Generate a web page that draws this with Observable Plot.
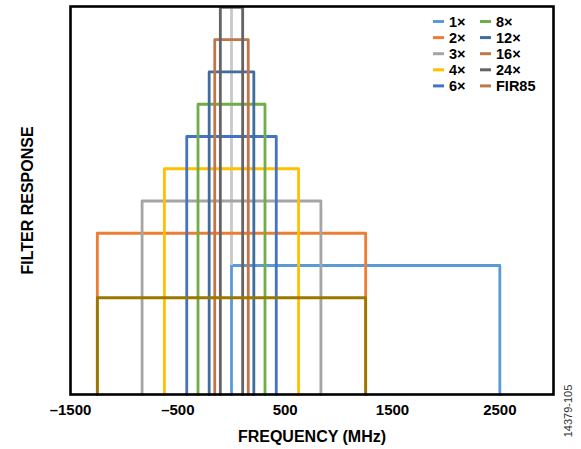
<!DOCTYPE html>
<html>
<head>
<meta charset="utf-8">
<script src="https://cdn.jsdelivr.net/npm/d3@7"></script>
<script src="https://cdn.jsdelivr.net/npm/@observablehq/plot@0.6"></script>
<style>
  html, body { margin: 0; padding: 0; background: #fff; }
  #chart { position: relative; width: 581px; height: 449px; }
</style>
</head>
<body>
<div id="chart"></div>
<script>
// ---- data ----
const categories = ["1×", "2×", "3×", "4×", "6×", "8×", "12×", "16×", "24×", "FIR85"];
const lowEdges   = [0, -1250, -833, -625, -417, -312, -208, -156, -104, -1250];
const highEdges  = [2500, 1250, 833, 625, 417, 312, 208, 156, 104, 1250];
const levels     = [4, 5, 6, 7, 8, 9, 10, 11, 12, 3];
const lineColors = ["#5b9bd5", "#ed7d31", "#a5a5a5", "#ffc000", "#4472c4", "#70ad47", "#3f6e9e", "#c0764a", "#646464", "#9c7700"];
const legendColors = ["#5b9bd5", "#ed7d31", "#a5a5a5", "#ffc000", "#4472c4", "#70ad47", "#3f6e9e", "#c0764a", "#646464", "#c0764a"];
const legendCol1 = ["1×", "2×", "3×", "4×", "6×"];
const legendCol2 = ["8×", "12×", "16×", "24×", "FIR85"];
const centerX = [0];
const centerFrom = [4];
const centerTo = [12];
const tickValues = [-1500, -500, 500, 1500, 2500];
const tickLabels = ["–1500", "–500", "500", "1500", "2500"];
const xTitle = "FREQUENCY (MHz)";
const yTitle = "FILTER RESPONSE";
const figureId = "14379-105";

// ---- derived tables ----
const outlines = categories.flatMap((c, i) => [
  {cat: c, x: lowEdges[i], y: 0},
  {cat: c, x: lowEdges[i], y: levels[i]},
  {cat: c, x: highEdges[i], y: levels[i]},
  {cat: c, x: highEdges[i], y: 0}
]);
const center = centerX.map((x, i) => ({x, y1: centerFrom[i], y2: centerTo[i]}));
const font = "'Liberation Sans', Arial, sans-serif";

const plot = Plot.plot({
  width: 581,
  height: 449,
  marginLeft: 70,
  marginRight: 28,
  marginTop: 6,
  marginBottom: 55,
  style: {fontFamily: font, background: "#fff", overflow: "visible"},
  x: {domain: [-1500, 3000]},
  y: {domain: [0, 12.03], axis: null},
  color: {domain: categories, range: lineColors},
  marks: [
    Plot.line(outlines.filter(d => d.cat === "1×"), {x: "x", y: "y", z: "cat", stroke: "cat", strokeWidth: 2.8}),
    Plot.ruleX(center, {x: "x", y1: "y1", y2: "y2", stroke: "#c8c8c8", strokeWidth: 2.8}),
    Plot.line(outlines.filter(d => d.cat !== "1×"), {x: "x", y: "y", z: "cat", stroke: "cat", strokeWidth: 2.8}),
    Plot.frame({stroke: "#000", strokeWidth: 2.6, strokeOpacity: 1}),
    Plot.axisX({
      ticks: tickValues,
      tickFormat: (d) => tickLabels[tickValues.indexOf(d)],
      tickSize: 0,
      tickPadding: 10,
      fontSize: 15,
      fontWeight: "bold",
      fill: "#000",
      label: null
    }),
    Plot.text([xTitle], {frameAnchor: "bottom", dy: 47, fontSize: 16, fontWeight: "bold", fill: "#000"}),
    Plot.text([yTitle], {frameAnchor: "left", textAnchor: "middle", dx: -43, rotate: -90, fontSize: 16, fontWeight: "bold", fill: "#000"})
  ]
});

document.getElementById("chart").appendChild(plot);

// ---- legend and figure id ----
const svg = d3.select(plot);
const leg = svg.append("g")
  .attr("font-family", font).attr("font-weight", "bold").attr("font-size", 14.5)
  .attr("text-anchor", "start");
const rowY = (i) => 21.5 + i * 16.1;
[[legendCol1, 433, 449], [legendCol2, 480, 496]].forEach(([items, sx, tx]) => {
  items.forEach((name, i) => {
    const col = legendColors[categories.indexOf(name)];
    leg.append("line").attr("x1", sx).attr("x2", sx + 11).attr("y1", rowY(i)).attr("y2", rowY(i))
      .attr("stroke", col).attr("stroke-width", 3);
    leg.append("text").attr("x", tx).attr("y", rowY(i)).attr("dy", "0.36em").attr("fill", "#000")
      .attr("text-anchor", "start").text(name);
  });
});
svg.append("text")
  .attr("transform", "translate(572,411) rotate(-90)")
  .attr("text-anchor", "middle")
  .attr("font-family", font)
  .attr("font-size", 11)
  .attr("fill", "#333")
  .text(figureId);
</script>
</body>
</html>
